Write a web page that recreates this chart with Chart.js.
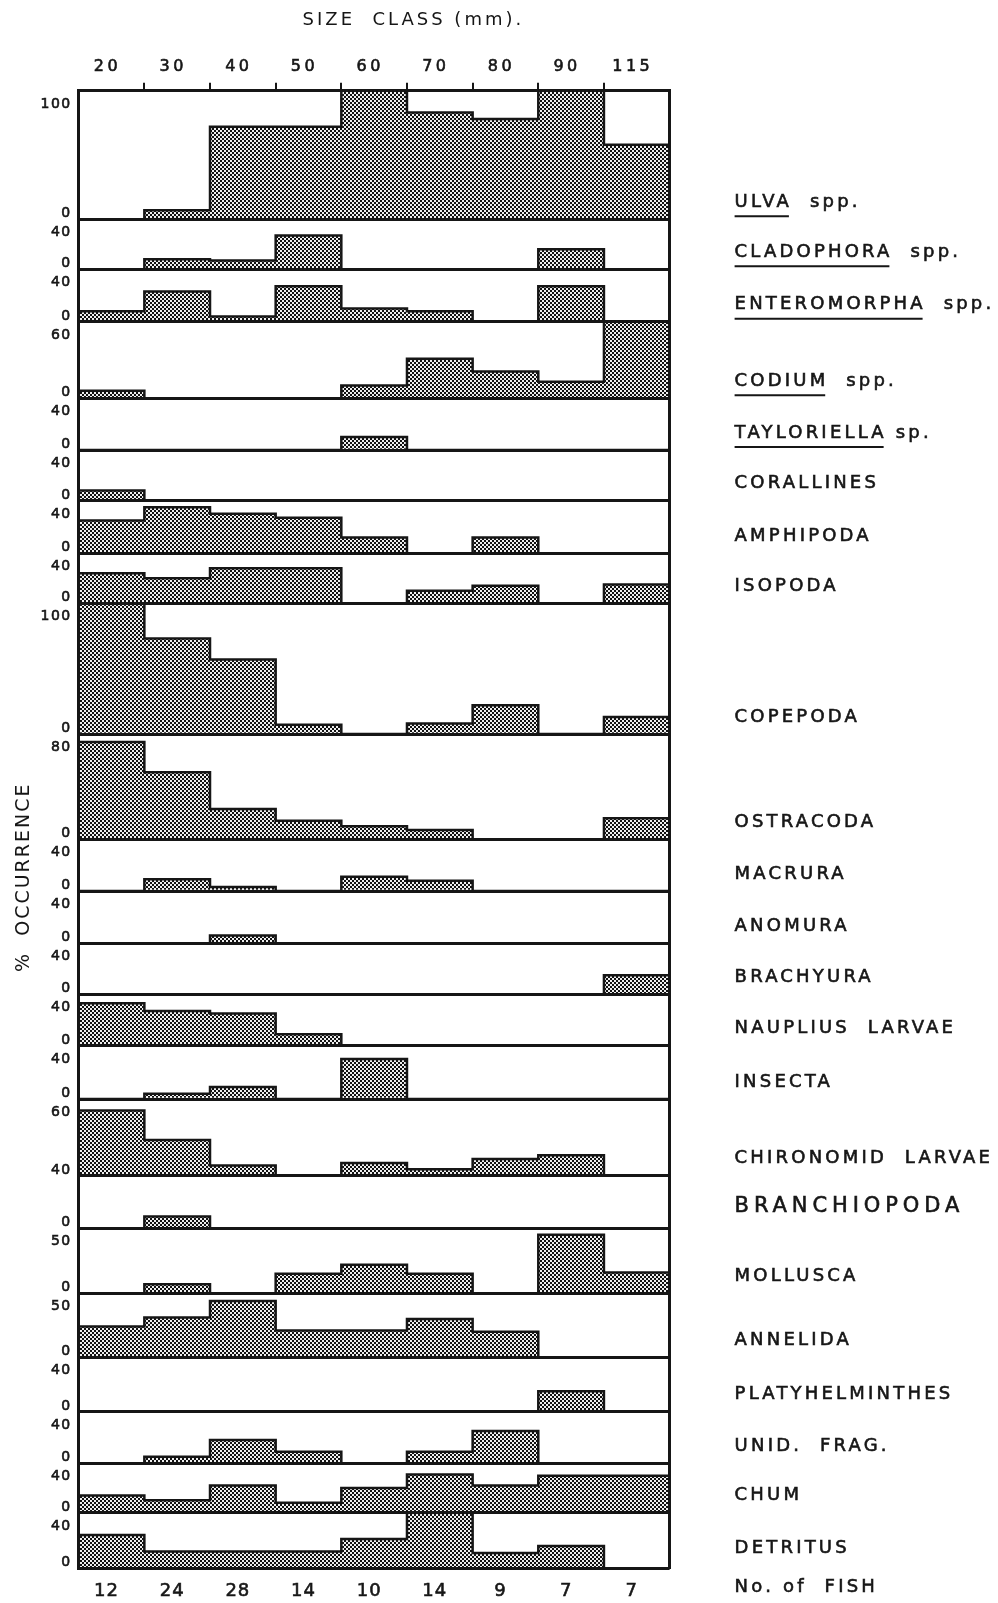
<!DOCTYPE html>
<html>
<head>
<meta charset="utf-8">
<title>Occurrence of food items by fish size class</title>
<script src="https://cdn.jsdelivr.net/npm/chart.js"></script>
<style>
  html, body { margin: 0; padding: 0; background: #fff; }
  #wrap { position: relative; width: 998px; height: 1603px; }
</style>
</head>
<body>
<div id="wrap"><canvas id="chart"></canvas></div>
<script>
// ---- data -------------------------------------------------------------
const sizeClasses = ['20', '30', '40', '50', '60', '70', '80', '90', '115'];
const fishCounts  = ['12', '24', '28', '14', '10', '14', '9', '7', '7'];
const fishLabel   = 'No. of  FISH';

const taxa = [
  'ULVA  spp.', 'CLADOPHORA  spp.', 'ENTEROMORPHA  spp.', 'CODIUM  spp.',
  'TAYLORIELLA sp.', 'CORALLINES', 'AMPHIPODA', 'ISOPODA', 'COPEPODA',
  'OSTRACODA', 'MACRURA', 'ANOMURA', 'BRACHYURA', 'NAUPLIUS  LARVAE',
  'INSECTA', 'CHIRONOMID  LARVAE', 'BRANCHIOPODA', 'MOLLUSCA', 'ANNELIDA',
  'PLATYHELMINTHES', 'UNID.  FRAG.', 'CHUM', 'DETRITUS'
];

// upper value of each panel's % occurrence axis
const axisTop = [100, 40, 40, 60, 40, 40, 40, 40, 100, 80, 40, 40, 40, 40, 40, 60, 40, 50, 50, 40, 40, 40, 40];

// % occurrence per size class (20 ... 115 mm)
const ulva            = [0, 7, 72, 72, 100, 83, 78, 100, 58];
const cladophora      = [0, 8, 7, 27, 0, 0, 0, 16, 0];
const enteromorpha    = [8, 23, 4, 27, 10, 8, 0, 27, 0];
const codium          = [6, 0, 0, 0, 10, 31, 21, 13, 60];
const tayloriella     = [0, 0, 0, 0, 10, 0, 0, 0, 0];
const corallines      = [8, 0, 0, 0, 0, 0, 0, 0, 0];
const amphipoda       = [25, 35, 30, 27, 12, 0, 12, 0, 0];
const isopoda         = [24, 20, 28, 28, 0, 10, 14, 0, 15];
const copepoda        = [100, 73, 57, 7, 0, 8, 22, 0, 13];
const ostracoda       = [74, 51, 23, 14, 10, 7, 0, 0, 16];
const macrura         = [0, 9, 3, 0, 11, 8, 0, 0, 0];
const anomura         = [0, 0, 6, 0, 0, 0, 0, 0, 0];
const brachyura       = [0, 0, 0, 0, 0, 0, 0, 0, 15];
const naupliusLarvae  = [33, 27, 25, 9, 0, 0, 0, 0, 0];
const insecta         = [0, 4, 9, 0, 30, 0, 0, 0, 0];
const chironomidLarvae= [51, 28, 8, 0, 10, 5, 13, 16, 0];
const branchiopoda    = [0, 9, 0, 0, 0, 0, 0, 0, 0];
const mollusca        = [0, 7, 0, 15, 22, 15, 0, 45, 16];
const annelida        = [24, 31, 44, 21, 21, 30, 20, 0, 0];
const platyhelminthes = [0, 0, 0, 0, 0, 0, 0, 15, 0];
const unidFrag        = [0, 5, 18, 9, 0, 9, 25, 0, 0];
const chum            = [14, 10, 22, 8, 20, 31, 22, 30, 30];
const detritus        = [24, 12, 12, 12, 21, 40, 11, 16, 0];

const occurrence = [
  ulva, cladophora, enteromorpha, codium, tayloriella, corallines, amphipoda,
  isopoda, copepoda, ostracoda, macrura, anomura, brachyura, naupliusLarvae,
  insecta, chironomidLarvae, branchiopoda, mollusca, annelida, platyhelminthes,
  unidFrag, chum, detritus
];

// ---- layout & style ---------------------------------------------------
const INK = '#161616';
const FAMILY = "'DejaVu Sans', 'Liberation Sans', sans-serif";
const STROKE = 0.6; // slight extra weight for the hand-lettered look
const FRAME = { left: 78.7, right: 328.4, top: 90.7, bottom: 34.7 };
// relative heights of the stacked panels, top to bottom
const panelHeights = [128.6, 50, 52.4, 76.6, 51.7, 50.7, 52.6, 50, 130.7, 105.3, 51.7, 52.3,
                      51, 51.4, 53.3, 76.7, 52.6, 65, 64, 54.4, 51.6, 49.4, 55.6];
const N = taxa.length;
const TITLE_PANEL = taxa.indexOf('MACRURA');
const NO_ZERO_LABEL = new Set([taxa.indexOf('CHIRONOMID  LARVAE')]);
const TOP_LABEL_ABOVE = new Set([taxa.indexOf('BRANCHIOPODA')]);
const WIDE_NAME = taxa.indexOf('BRANCHIOPODA');

// per-scale letter spacing (and genus underline) used while drawing text
const textStyle = {
  xTop: { ticks: '3.5px', title: '3px' },
  x: { ticks: '1px' }
};

// stippled fill for the bars
function makeStipple() {
  const c = document.createElement('canvas');
  c.width = 4; c.height = 4;
  const g = c.getContext('2d');
  g.fillStyle = '#eeeeee';
  g.fillRect(0, 0, 4, 4);
  g.fillStyle = '#111111';
  g.fillRect(0, 0, 2, 2);
  g.fillRect(2, 2, 2, 2);
  return g.createPattern(c, 'repeat');
}
const stipple = makeStipple();

function underlineGenus(scale, st) {
  const items = scale.getLabelItems();
  if (!items.length) return;
  const item = items[0];
  const ctx = scale.ctx;
  const [x, y] = item.options.translation;
  const lineY = y + item.textOffset + 14;
  ctx.save();
  ctx.font = item.font.string;
  ctx.letterSpacing = st.ticks || '0px';
  const w = ctx.measureText(st.underline).width - parseFloat(st.ticks || '0');
  ctx.strokeStyle = INK;
  ctx.lineWidth = 2;
  ctx.beginPath();
  ctx.moveTo(x, lineY);
  ctx.lineTo(x + w, lineY);
  ctx.stroke();
  ctx.restore();
}

// scale types that draw their text with letter spacing
function spacedScale(Base, id) {
  class Spaced extends Base {
    drawLabels(area) {
      const st = textStyle[this.id] || {};
      const ctx = this.ctx;
      ctx.save();
      ctx.letterSpacing = st.ticks || '0px';
      super.drawLabels(area);
      ctx.restore();
      if (st.underline) underlineGenus(this, st);
    }
    drawTitle() {
      const st = textStyle[this.id] || {};
      const ctx = this.ctx;
      ctx.save();
      ctx.letterSpacing = st.title || '0px';
      super.drawTitle();
      ctx.restore();
    }
  }
  Spaced.id = id;
  Spaced.defaults = Base.defaults;
  return Spaced;
}
Chart.register(spacedScale(Chart.LinearScale, 'spacedLinear'),
               spacedScale(Chart.CategoryScale, 'spacedCategory'));

const fixVertical = (w) => (s) => { s.width = w; s.paddingTop = 0; s.paddingBottom = 0; };
const fixHorizontal = (h) => (s) => { s.height = h; s.paddingLeft = 0; s.paddingRight = 0; };

// ---- scales -----------------------------------------------------------
const scales = {
  xTop: {
    type: 'spacedCategory', axis: 'x', position: 'top', offset: true,
    grid: {
      display: true, offset: true, drawOnChartArea: false, drawTicks: true, tickLength: 8,
      color: INK,
      lineWidth: (ctx) => (ctx.index > 0 && ctx.index < sizeClasses.length ? 2 : 0)
    },
    border: { display: true, color: INK, width: 3, z: 1 },
    ticks: { color: INK, font: { family: FAMILY, size: 16 }, padding: 6, labelOffset: -4,
             autoSkip: false, maxRotation: 0, textStrokeColor: INK, textStrokeWidth: STROKE },
    title: { display: true, text: ' '.repeat(9) + 'SIZE  CLASS (mm).', color: INK,
             font: { family: FAMILY, size: 18 }, padding: { top: 10, bottom: 0 } },
    afterFit: fixHorizontal(FRAME.top)
  },
  x: {
    type: 'spacedCategory', axis: 'x', position: 'bottom', offset: true,
    grid: { display: false, drawTicks: false, offset: true },
    border: { display: false },
    ticks: { color: INK, font: { family: FAMILY, size: 18 }, padding: 12, labelOffset: -5,
             autoSkip: false, maxRotation: 0, textStrokeColor: INK, textStrokeWidth: STROKE,
             callback: (v, i) => fishCounts[i] },
    afterFit: fixHorizontal(FRAME.bottom)
  },
  // continuous twin of the size-class axis, used for the histogram outlines
  xStep: {
    type: 'linear', axis: 'x', position: 'bottom', display: false,
    offset: false, bounds: 'data',
    min: -0.5, max: sizeClasses.length - 0.5
  }
};

taxa.forEach((name, i) => {
  const top = axisTop[i];
  const yId = 'y' + i;
  const nId = 'n' + i;
  textStyle[yId] = { ticks: '1.5px', title: '2px' };
  const genus = /\bspp?\.$/.test(name) ? name.split(' ')[0] : null;
  textStyle[nId] = { ticks: i === WIDE_NAME ? '4.9px' : '3.2px', underline: genus };

  scales[yId] = {
    type: 'spacedLinear', axis: 'y', position: 'left',
    stack: 'occurrence', stackWeight: panelHeights[i], weight: N - i,
    min: 0, max: top,
    afterBuildTicks: (s) => { s.ticks = [{ value: 0 }, { value: top }]; },
    grid: { display: true, drawOnChartArea: true, drawTicks: false, color: INK, lineWidth: 3, z: 1 },
    border: { display: true, color: INK, width: 3, z: 1 },
    ticks: {
      autoSkip: false, padding: 7, color: INK, textStrokeColor: INK, textStrokeWidth: STROKE,
      font: (ctx) => ({
        family: FAMILY, size: 14,
        lineHeight: (ctx.tick && ctx.tick.value !== 0 && !TOP_LABEL_ABOVE.has(i)) ? '27px' : '11px'
      }),
      callback: (value) => {
        if (value === 0) return NO_ZERO_LABEL.has(i) ? '' : ['0', ''];
        return TOP_LABEL_ABOVE.has(i) ? [String(value), ''] : ['', String(value)];
      }
    },
    title: i === TITLE_PANEL
      ? { display: true, text: '%  OCCURRENCE   ', color: INK,
          font: { family: FAMILY, size: 19 }, padding: { top: 13, bottom: 0 } }
      : { display: false },
    afterFit: fixVertical(FRAME.left)
  };

  const last = i === N - 1;
  scales[nId] = {
    type: 'spacedLinear', axis: 'y', position: 'right',
    stack: 'names', stackWeight: panelHeights[i], weight: i,
    min: 0, max: 1,
    afterBuildTicks: (s) => { s.ticks = [{ value: 0 }]; },
    grid: { display: false, drawTicks: false },
    border: { display: true, color: INK, width: 3, z: 1 },
    ticks: {
      autoSkip: false, padding: 65, color: INK, textStrokeColor: INK, textStrokeWidth: STROKE,
      font: {
        family: FAMILY,
        size: i === WIDE_NAME ? 21 : 18,
        lineHeight: i === WIDE_NAME ? '43px' : (last ? '39px' : '34px')
      },
      callback: () => (last ? [name, fishLabel] : [name, ''])
    },
    afterFit: fixVertical(FRAME.right)
  };
});

// ---- datasets ---------------------------------------------------------
// step outline: each class value spans its whole class width
const outline = (values) =>
  values.map((v, k) => ({ x: k - 0.5, y: v }))
        .concat([{ x: values.length - 0.5, y: values[values.length - 1] }]);

const datasets = [];
occurrence.forEach((values, i) => {
  datasets.push({
    type: 'bar', label: taxa[i], data: values,
    xAxisID: 'x', yAxisID: 'y' + i,
    backgroundColor: stipple, borderWidth: 0,
    grouped: false, barPercentage: 1, categoryPercentage: 1, order: 2
  });
  datasets.push({
    type: 'line', label: taxa[i], data: outline(values),
    xAxisID: 'xStep', yAxisID: 'y' + i,
    stepped: 'before', borderColor: INK, borderWidth: 2.5,
    borderCapStyle: 'butt', borderJoinStyle: 'miter',
    pointRadius: 0, fill: false, order: 1
  });
});

new Chart(document.getElementById('chart'), {
  type: 'bar',
  data: { labels: sizeClasses, datasets },
  options: {
    responsive: true,
    maintainAspectRatio: false,
    animation: false,
    events: [],
    layout: { padding: 0 },
    plugins: {
      legend: { display: false },
      tooltip: { enabled: false },
      title: { display: false }
    },
    scales
  }
});
</script>
</body>
</html>
